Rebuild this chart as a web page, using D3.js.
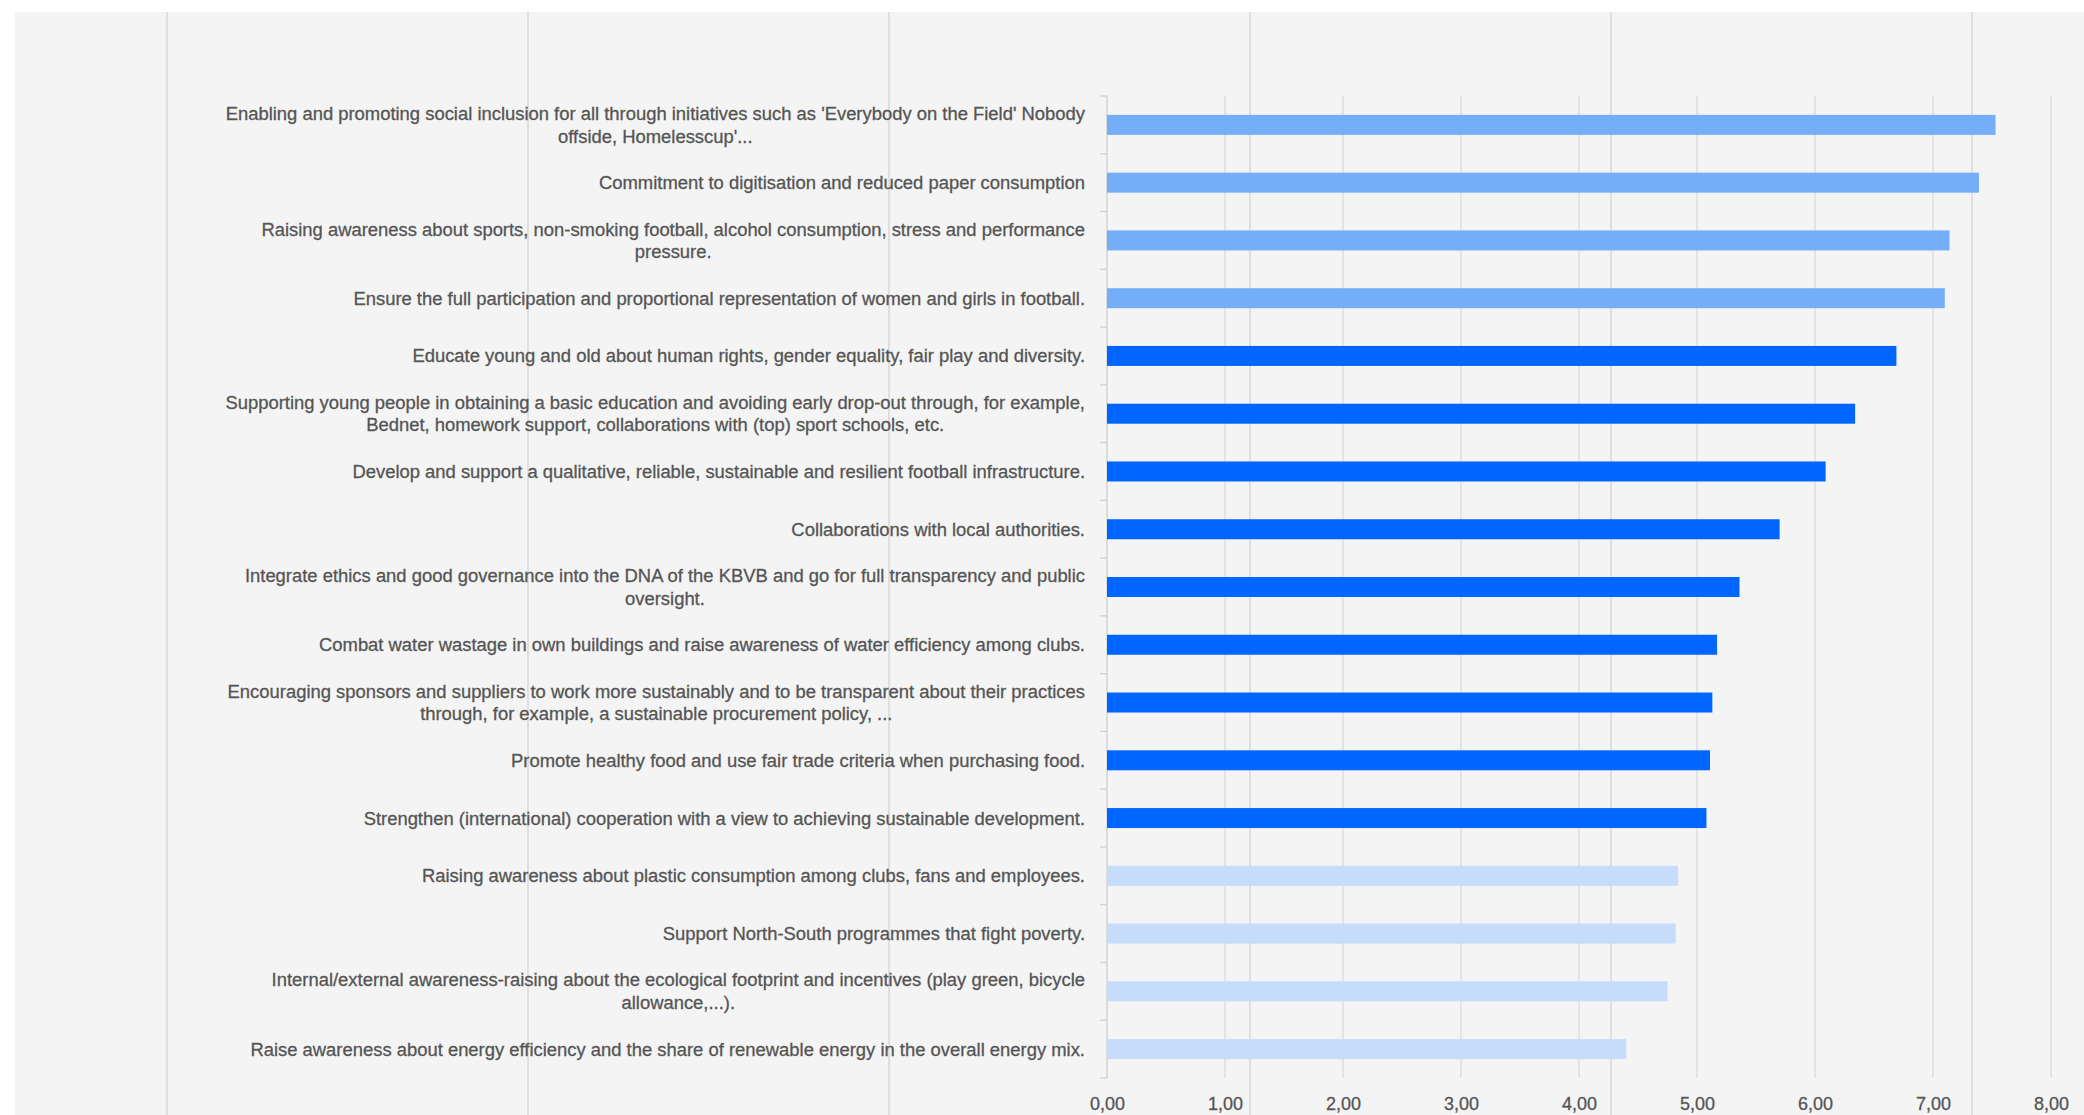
<!DOCTYPE html>
<html><head><meta charset="utf-8">
<script src="https://cdn.jsdelivr.net/npm/d3@7"></script>
<style>html,body{margin:0;padding:0;background:#fff;overflow:hidden}</style>
</head><body><svg id="c" width="2084" height="1115"></svg>
<script>
// ---------- DATA ----------
const categories = [
  ["Enabling and promoting social inclusion for all through initiatives such as 'Everybody on the Field' Nobody", "offside, Homelesscup'..."],
  ["Commitment to digitisation and reduced paper consumption"],
  ["Raising awareness about sports, non-smoking football, alcohol consumption, stress and performance", "pressure."],
  ["Ensure the full participation and proportional representation of women and girls in football."],
  ["Educate young and old about human rights, gender equality, fair play and diversity."],
  ["Supporting young people in obtaining a basic education and avoiding early drop-out through, for example,", "Bednet, homework support, collaborations with (top) sport schools, etc."],
  ["Develop and support a qualitative, reliable, sustainable and resilient football infrastructure."],
  ["Collaborations with local authorities."],
  ["Integrate ethics and good governance into the DNA of the KBVB and go for full transparency and public", "oversight."],
  ["Combat water wastage in own buildings and raise awareness of water efficiency among clubs."],
  ["Encouraging sponsors and suppliers to work more sustainably and to be transparent about their practices", "through, for example, a sustainable procurement policy, ..."],
  ["Promote healthy food and use fair trade criteria when purchasing food."],
  ["Strengthen (international) cooperation with a view to achieving sustainable development."],
  ["Raising awareness about plastic consumption among clubs, fans and employees."],
  ["Support North-South programmes that fight poverty."],
  ["Internal/external awareness-raising about the ecological footprint and incentives (play green, bicycle", "allowance,...)."],
  ["Raise awareness about energy efficiency and the share of renewable energy in the overall energy mix."]
];
const values = [7.53, 7.39, 7.14, 7.10, 6.69, 6.34, 6.09, 5.70, 5.36, 5.17, 5.13, 5.11, 5.08, 4.84, 4.82, 4.75, 4.40];
const groups = ["top","top","top","top","mid","mid","mid","mid","mid","mid","mid","mid","mid","low","low","low","low"];
const tickValues = [0, 1, 2, 3, 4, 5, 6, 7, 8];
const tickLabels = ["0,00", "1,00", "2,00", "3,00", "4,00", "5,00", "6,00", "7,00", "8,00"];

// ---------- STYLE / LAYOUT ----------
const groupColor = {top: "#74aef9", mid: "#0066ff", low: "#c5dcfb"};
const W = 2084, H = 1115;
const plot = {left: 1107, right: 2051, top: 96, bottom: 1078};
const labelRight = 1085;
const textColor = "#555555";
const fontFamily = "'Liberation Sans Narrow', 'Arial Narrow', 'Liberation Sans', sans-serif";

const svg = d3.select("#c");

// page background (screenshot frame)
svg.append("rect").attr("x", 0).attr("y", 0).attr("width", W).attr("height", H).attr("fill", "#ffffff");
svg.append("rect").attr("x", 15).attr("y", 12).attr("width", W - 15).attr("height", H - 12).attr("fill", "#f4f4f4");

// faint backdrop grid behind the chart (part of the original screenshot)
const backdrop = d3.scaleLinear().domain([0, 5]).range([167, 1972]);
svg.append("g").selectAll("line").data(d3.range(6)).join("line")
  .attr("x1", d => backdrop(d)).attr("x2", d => backdrop(d))
  .attr("y1", 12).attr("y2", H)
  .attr("stroke", "#d6d6d6").attr("stroke-width", 1.4);

// scales
const x = d3.scaleLinear().domain([0, 8]).range([plot.left, plot.right]);
const y = d3.scaleBand().domain(d3.range(categories.length))
  .range([plot.top, plot.bottom]).paddingInner(0.654).paddingOuter(0.327);

// gridlines
svg.append("g").selectAll("line").data(tickValues.slice(1)).join("line")
  .attr("x1", d => x(d)).attr("x2", d => x(d))
  .attr("y1", plot.top).attr("y2", plot.bottom)
  .attr("stroke", "#d9d9d9").attr("stroke-width", 1.2);

// y axis line + ticks
svg.append("line").attr("x1", x(0)).attr("x2", x(0)).attr("y1", plot.top).attr("y2", plot.bottom)
  .attr("stroke", "#d0d0d0").attr("stroke-width", 1.3);
const step = y.step();
svg.append("g").selectAll("line").data(d3.range(categories.length + 1)).join("line")
  .attr("x1", x(0) - 7).attr("x2", x(0))
  .attr("y1", d => plot.top + d * step).attr("y2", d => plot.top + d * step)
  .attr("stroke", "#d0d0d0").attr("stroke-width", 1.3);

// bars
svg.append("g").selectAll("rect").data(values).join("rect")
  .attr("x", x(0))
  .attr("y", (d, i) => y(i))
  .attr("width", d => x(d) - x(0))
  .attr("height", y.bandwidth())
  .attr("fill", (d, i) => groupColor[groups[i]]);

// font calibration: fit the longest single-line label to its measured width
function measure(str, size) {
  const t = svg.append("text").attr("font-family", fontFamily).attr("font-size", size).text(str);
  const w = t.node().getComputedTextLength();
  t.remove();
  return w;
}
const labelSize = 20 * 835 / measure(categories[16][0], 20);
const tickSize = Math.min(22, 20 * 35 / measure("0,00", 20));

// category labels (lines centred within block, block right-aligned)
const lineH = 22.6;
const lg = svg.append("g").attr("font-family", fontFamily).attr("font-size", labelSize)
  .attr("fill", textColor).attr("stroke", textColor).attr("stroke-width", 0.3);
categories.forEach((lines, i) => {
  const widths = lines.map(l => measure(l, labelSize));
  const bw = d3.max(widths);
  const cx = labelRight - bw / 2;
  const cy = y(i) + y.bandwidth() / 2;
  lines.forEach((l, j) => {
    lg.append("text")
      .attr("x", cx)
      .attr("y", cy + (j - (lines.length - 1) / 2) * lineH)
      .attr("dy", "0.35em")
      .attr("text-anchor", "middle")
      .text(l);
  });
});

// x axis tick labels
const axis = d3.axisBottom(x).tickValues(tickValues).tickFormat((d, i) => tickLabels[i]).tickSize(0).tickPadding(19);
const ag = svg.append("g").attr("transform", `translate(0,${plot.bottom})`).call(axis);
ag.select(".domain").remove();
ag.selectAll("text").attr("font-family", fontFamily).attr("font-size", tickSize)
  .attr("fill", textColor).attr("stroke", textColor).attr("stroke-width", 0.3);
</script>
</body></html>
